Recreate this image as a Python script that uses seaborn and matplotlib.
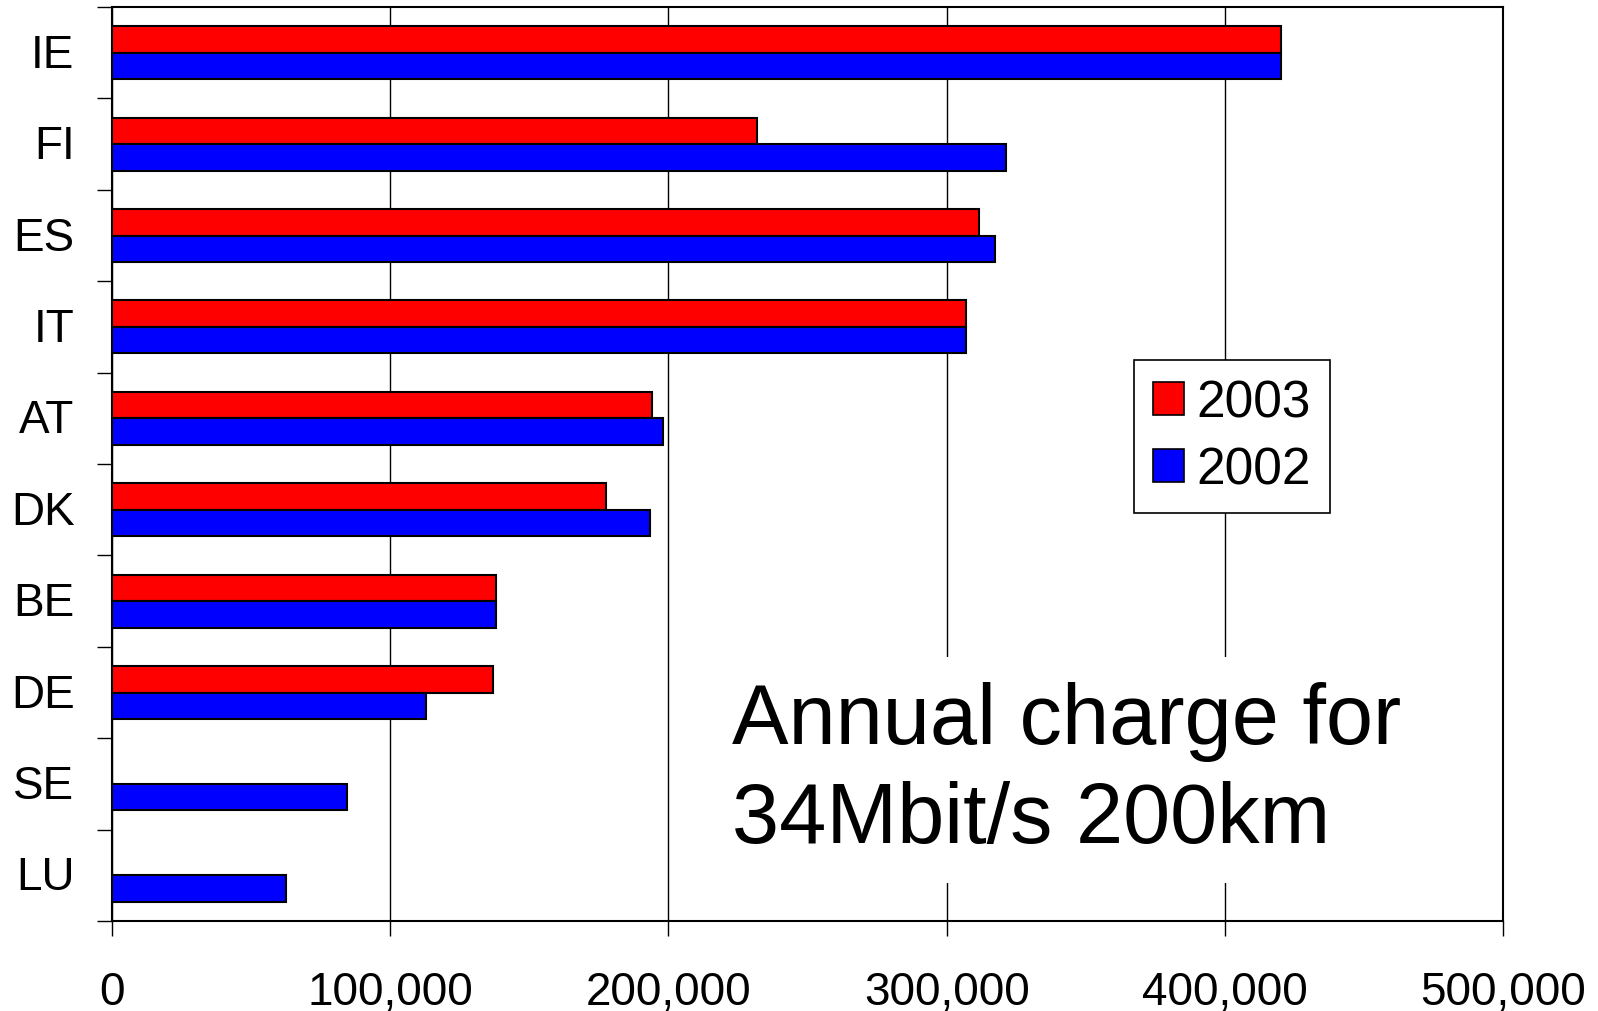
import pandas as pd
import matplotlib
matplotlib.use('Agg')
import matplotlib.pyplot as plt
from matplotlib.patches import Patch
from matplotlib.ticker import FuncFormatter, FixedLocator
import matplotlib.transforms as mtransforms
import numpy as np
import seaborn as sns

countries = ['IE', 'FI', 'ES', 'IT', 'AT', 'DK', 'BE', 'DE', 'SE', 'LU']
charge_2003 = [420000, 232000, 311500, 307000, 194000, 177500, 138000, 137000, np.nan, np.nan]
charge_2002 = [420000, 321500, 317500, 307000, 198000, 193500, 138000, 113000, 84500, 62500]
years = ['2003', '2002']
colors = ['#ff0000', '#0000ff']
xticks = [0, 100000, 200000, 300000, 400000, 500000]

rows = []
for c, a, b in zip(countries, charge_2003, charge_2002):
    if not np.isnan(a):
        rows.append((c, '2003', a))
    rows.append((c, '2002', b))
data = pd.DataFrame(rows, columns=['country', 'year', 'charge'])

sns.set_style('white')
plt.rcParams['font.family'] = ['Liberation Sans', 'DejaVu Sans']
plt.rcParams['text.color'] = 'black'
plt.rcParams['xtick.color'] = 'black'
plt.rcParams['ytick.color'] = 'black'

fig = plt.figure(figsize=(15.98, 10.12), dpi=100)
ax = fig.add_axes([0.0701, 0.0889, 0.8705, 0.9031])

sns.barplot(data=data, x='charge', y='country', hue='year', order=countries,
            hue_order=years, palette=colors, width=0.58, orient='h',
            edgecolor='black', linewidth=1.5, saturation=1, legend=False,
            errorbar=None, ax=ax, zorder=3)

ax.set_xlim(0, 500000)
ax.set_ylim(len(countries) - 0.5, -0.5)
ax.set_xticks(xticks)
ax.xaxis.set_major_formatter(FuncFormatter(lambda v, p: f'{v:,.0f}'))
ax.grid(axis='x', color='black', linewidth=1, zorder=0)
ax.set_axisbelow(True)
ax.set_xlabel('')
ax.set_ylabel('')

ax.tick_params(axis='x', direction='out', length=11, width=1, labelsize=33, pad=24, bottom=True)
ax.tick_params(axis='y', which='major', length=0, labelsize=33, pad=27)
ax.yaxis.set_minor_locator(FixedLocator(np.arange(-0.5, len(countries), 1)))
ax.tick_params(axis='y', which='minor', direction='out', length=11, width=1, left=True)
shift = mtransforms.ScaledTranslation(0, 3 / 100, fig.dpi_scale_trans)
for lab in ax.get_yticklabels():
    lab.set_transform(lab.get_transform() + shift)

for s in ax.spines.values():
    s.set_visible(True)
    s.set_color('black')
    s.set_linewidth(1.5)

handles = [Patch(facecolor=col, edgecolor='black', linewidth=1.2, label=y) for col, y in zip(colors, years)]
leg = ax.legend(handles=handles, loc='upper left', bbox_to_anchor=(0.735, 0.614),
                fontsize=37, frameon=True, fancybox=False, framealpha=1,
                edgecolor='black', handlelength=0.6, handleheight=0.6,
                handletextpad=0.25, labelspacing=0.36, borderpad=0.36, borderaxespad=0)
leg.get_frame().set_linewidth(1.2)
leg.set_zorder(5)

ax.text(0.446, 0.165, 'Annual charge for\n34Mbit/s 200km', transform=ax.transAxes,
        fontsize=61, ha='left', va='center', linespacing=1.3, zorder=5,
        bbox=dict(facecolor='white', edgecolor='none', pad=17))

fig.savefig('out.png', dpi=100)
